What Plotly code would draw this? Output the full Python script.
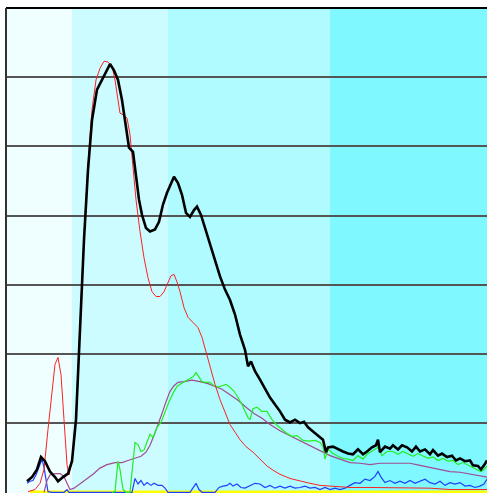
import plotly.graph_objects as go

# Sample positions (x) and signal levels (y) for each trace
black_x = [27, 32, 37, 41, 45, 50, 55, 58, 63, 68, 72, 76, 80, 84, 88, 92, 97, 101, 105, 110, 114, 118, 122, 126,
           129, 133, 136, 139, 142, 146, 150, 155, 159, 163, 167, 171, 174, 178, 182, 186, 190, 194, 197, 201, 205,
           210, 215, 220, 225, 230, 235, 240, 245, 248, 251, 255, 260, 265, 270, 275, 280, 285, 290, 295, 300, 304,
           308, 313, 318, 323, 326, 328, 333, 338, 343, 348, 353, 358, 363, 367, 372, 376, 378, 380, 385, 390, 393,
           398, 402, 407, 412, 416, 420, 425, 430, 433, 438, 442, 447, 452, 456, 460, 465, 470, 473, 478, 481, 484, 487]
black_y = [0.16, 0.22, 0.33, 0.51, 0.45, 0.30, 0.22, 0.16, 0.22, 0.27, 0.45, 1.05, 2.35, 3.65, 4.66, 5.38, 5.82, 5.93,
           6.05, 6.19, 6.10, 5.96, 5.67, 5.24, 4.98, 4.92, 4.59, 4.23, 4.01, 3.82, 3.77, 3.80, 3.91, 4.16, 4.33, 4.47,
           4.56, 4.47, 4.30, 4.04, 3.98, 4.08, 4.13, 4.01, 3.82, 3.58, 3.33, 3.12, 2.93, 2.78, 2.57, 2.28, 2.06, 1.82,
           1.89, 1.75, 1.63, 1.49, 1.37, 1.27, 1.17, 1.05, 1.01, 1.05, 1.00, 1.02, 0.94, 0.88, 0.82, 0.76, 0.58, 0.65,
           0.66, 0.62, 0.59, 0.56, 0.55, 0.62, 0.55, 0.59, 0.65, 0.68, 0.76, 0.58, 0.66, 0.63, 0.68, 0.62, 0.68, 0.65,
           0.59, 0.66, 0.59, 0.62, 0.55, 0.61, 0.53, 0.56, 0.51, 0.53, 0.46, 0.49, 0.45, 0.46, 0.39, 0.38, 0.33, 0.39,
           0.46]

red_x = [28, 35, 40, 44, 48, 52, 55, 58, 61, 64, 67, 69, 72, 76, 80, 84, 88, 92, 96, 100, 104, 108, 112, 115, 118,
         120, 124, 127, 130, 133, 136, 140, 144, 148, 152, 156, 160, 164, 168, 171, 174, 177, 180, 184, 188, 193, 198,
         202, 206, 210, 215, 220, 225, 230, 235, 240, 246, 253, 260, 267, 273, 280, 290, 300, 310, 320, 335, 350, 370,
         390, 410, 430, 450, 470, 487]
red_y = [0.01, 0.04, 0.13, 0.33, 0.91, 1.49, 1.85, 1.95, 1.70, 1.05, 0.40, 0.25, 0.45, 1.13, 2.42, 3.72, 4.73, 5.53,
         5.96, 6.13, 6.23, 6.22, 6.16, 5.96, 5.67, 5.48, 5.45, 5.41, 5.17, 4.73, 4.23, 3.77, 3.39, 3.10, 2.90, 2.83,
         2.83, 2.90, 3.04, 3.13, 3.15, 3.04, 2.90, 2.67, 2.53, 2.45, 2.38, 2.24, 2.03, 1.80, 1.56, 1.34, 1.15, 0.98,
         0.87, 0.76, 0.66, 0.58, 0.48, 0.38, 0.32, 0.26, 0.20, 0.16, 0.13, 0.10, 0.09, 0.07, 0.07, 0.07, 0.06, 0.06,
         0.04, 0.04, 0.04]

green_x = [112, 115, 118, 120, 123, 126, 130, 133, 135, 138, 141, 144, 147, 150, 153, 157, 161, 165, 169, 173, 177,
           181, 185, 189, 193, 196, 199, 202, 206, 210, 214, 218, 222, 226, 230, 234, 238, 242, 245, 248, 250, 253,
           257, 262, 267, 272, 277, 282, 287, 292, 297, 303, 309, 315, 320, 323, 325, 328, 333, 338, 343, 348, 353,
           358, 363, 367, 372, 378, 382, 387, 393, 398, 403, 408, 413, 418, 423, 428, 433, 438, 443, 448, 453, 458,
           463, 468, 473, 478, 481, 484, 487]
green_y = [0.00, 0.01, 0.45, 0.33, 0.04, 0.00, 0.00, 0.48, 0.72, 0.69, 0.59, 0.61, 0.72, 0.84, 0.79, 0.94, 1.01, 1.17,
           1.31, 1.43, 1.53, 1.57, 1.60, 1.63, 1.67, 1.73, 1.66, 1.60, 1.59, 1.59, 1.54, 1.52, 1.54, 1.56, 1.52, 1.46,
           1.37, 1.27, 1.17, 1.08, 1.05, 1.21, 1.23, 1.17, 1.17, 1.05, 0.97, 0.91, 0.85, 0.81, 0.82, 0.75, 0.74, 0.75,
           0.72, 0.66, 0.48, 0.62, 0.56, 0.52, 0.49, 0.48, 0.46, 0.53, 0.48, 0.55, 0.59, 0.65, 0.53, 0.59, 0.59, 0.55,
           0.59, 0.56, 0.52, 0.56, 0.52, 0.49, 0.51, 0.46, 0.49, 0.45, 0.46, 0.40, 0.43, 0.39, 0.36, 0.32, 0.30, 0.33,
           0.38]

purple_x = [44, 47, 50, 55, 60, 64, 67, 70, 74, 80, 87, 93, 100, 107, 115, 122, 128, 135, 141, 146, 150, 154, 158,
            162, 166, 170, 174, 178, 184, 192, 200, 208, 215, 222, 230, 238, 246, 254, 262, 270, 280, 290, 300, 310,
            320, 330, 340, 350, 360, 370, 380, 390, 400, 410, 420, 430, 440, 450, 460, 470, 480, 487]
purple_y = [0.00, 0.17, 0.25, 0.27, 0.27, 0.23, 0.13, 0.04, 0.06, 0.12, 0.19, 0.26, 0.35, 0.40, 0.43, 0.43, 0.46,
            0.49, 0.52, 0.58, 0.68, 0.82, 0.97, 1.14, 1.31, 1.46, 1.54, 1.59, 1.60, 1.62, 1.60, 1.57, 1.53, 1.49, 1.41,
            1.33, 1.23, 1.14, 1.07, 0.98, 0.89, 0.82, 0.75, 0.68, 0.61, 0.53, 0.48, 0.43, 0.42, 0.40, 0.42, 0.42, 0.43,
            0.42, 0.39, 0.36, 0.33, 0.30, 0.29, 0.26, 0.23, 0.22]

blue_x = [27, 30, 33, 36, 40, 42, 44, 46, 48, 52, 64, 67, 69, 132, 135, 138, 141, 144, 147, 151, 154, 158, 162, 165,
          168, 190, 193, 196, 199, 202, 215, 219, 223, 227, 230, 233, 237, 241, 245, 250, 255, 260, 265, 270, 275, 280,
          285, 290, 295, 300, 305, 310, 315, 320, 325, 330, 335, 340, 345, 350, 355, 360, 365, 370, 375, 378, 381, 385,
          390, 395, 400, 405, 410, 415, 420, 425, 430, 435, 440, 445, 450, 455, 460, 465, 470, 475, 480, 484, 487]
blue_y = [0.13, 0.16, 0.17, 0.25, 0.40, 0.48, 0.36, 0.16, 0.01, 0.00, 0.00, 0.04, 0.00, 0.00, 0.20, 0.12, 0.17, 0.10,
          0.14, 0.10, 0.13, 0.10, 0.10, 0.06, 0.00, 0.00, 0.07, 0.13, 0.04, 0.00, 0.00, 0.07, 0.09, 0.10, 0.13, 0.09,
          0.12, 0.07, 0.06, 0.09, 0.13, 0.12, 0.07, 0.10, 0.06, 0.09, 0.06, 0.09, 0.06, 0.07, 0.09, 0.06, 0.07, 0.04,
          0.07, 0.04, 0.06, 0.04, 0.06, 0.10, 0.14, 0.13, 0.19, 0.17, 0.23, 0.30, 0.22, 0.14, 0.17, 0.13, 0.16, 0.13,
          0.17, 0.13, 0.16, 0.19, 0.14, 0.12, 0.16, 0.10, 0.14, 0.12, 0.14, 0.09, 0.10, 0.07, 0.09, 0.12, 0.19]

yellow_x = [30, 487]
yellow_y = [0.0, 0.0]

# Background zones along the x axis
zone_edges = [6, 72, 168, 330, 487]
zone_colors = ["#effeff", "#ccfcff", "#b0fbff", "#80f8ff"]

fig = go.Figure()

for x0, x1, col in zip(zone_edges[:-1], zone_edges[1:], zone_colors):
    fig.add_shape(type="rect", xref="x", yref="paper", x0=x0, x1=x1, y0=0, y1=1,
                  fillcolor=col, line_width=0, layer="below")

traces = [
    (yellow_x, yellow_y, "#ffff00", 3.5),
    (blue_x, blue_y, "#2040ff", 1.2),
    (purple_x, purple_y, "#a04c90", 1.2),
    (green_x, green_y, "#22ee22", 1.2),
    (red_x, red_y, "#ff2020", 1.0),
    (black_x, black_y, "#000000", 2.6),
]
for xs, ys, col, w in traces:
    fig.add_trace(go.Scatter(x=xs, y=ys, mode="lines", line=dict(color=col, width=w),
                             hoverinfo="skip", showlegend=False))

# Frame: top edge and left axis
fig.add_shape(type="line", xref="paper", yref="paper", x0=0, x1=1, y0=1, y1=1,
              line=dict(color="#000000", width=2))
fig.add_shape(type="line", xref="paper", yref="paper", x0=0, x1=0, y0=0, y1=1,
              line=dict(color="#333333", width=2))

fig.update_layout(
    width=487, height=494,
    margin=dict(l=6, r=0, t=8, b=1),
    paper_bgcolor="#ffffff", plot_bgcolor="#ffffff",
    xaxis=dict(range=[6, 487], showgrid=False, zeroline=False, showticklabels=False, ticks=""),
    yaxis=dict(range=[-0.01, 7], dtick=1, tick0=0, showgrid=True, gridcolor="#555555", gridwidth=1.5,
               zeroline=False, showticklabels=False, ticks=""),
)

fig.write_html("out.html")
